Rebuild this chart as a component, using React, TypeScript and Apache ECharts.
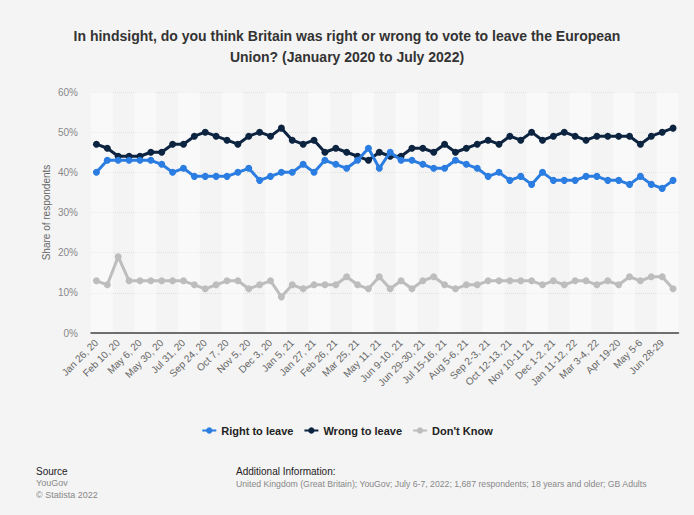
import React, { useEffect, useRef } from "react";
import * as echarts from "echarts";

const tickLabels = [
  "Jan 26, 20", "Feb 10, 20", "May 6, 20", "May 30, 20", "Jul 31, 20", "Sep 24, 20",
  "Oct 7, 20", "Nov 5, 20", "Dec 3, 20", "Jan 5, 21", "Jan 27, 21", "Feb 26, 21",
  "Mar 25, 21", "May 11, 21", "Jun 9-10, 21", "Jun 29-30, 21", "Jul 15-16, 21",
  "Aug 5-6, 21", "Sep 2-3, 21", "Oct 12-13, 21", "Nov 10-11 21", "Dec 1-2, 21",
  "Jan 11-12, 22", "Mar 3-4, 22", "Apr 19-20", "May 5-6", "Jun 28-29",
];
const lastSurvey = "Jul 6-7";

const rightToLeave = [
  40, 43, 43, 43, 43, 43, 42, 40, 41, 39, 39, 39, 39, 40, 41, 38, 39, 40, 40, 42,
  40, 43, 42, 41, 43, 46, 41, 45, 43, 43, 42, 41, 41, 43, 42, 41, 39, 40, 38, 39,
  37, 40, 38, 38, 38, 39, 39, 38, 38, 37, 39, 37, 36, 38,
];
const wrongToLeave = [
  47, 46, 44, 44, 44, 45, 45, 47, 47, 49, 50, 49, 48, 47, 49, 50, 49, 51, 48, 47,
  48, 45, 46, 45, 44, 43, 45, 44, 44, 46, 46, 45, 47, 45, 46, 47, 48, 47, 49, 48,
  50, 48, 49, 50, 49, 48, 49, 49, 49, 49, 47, 49, 50, 51,
];
const dontKnow = [
  13, 12, 19, 13, 13, 13, 13, 13, 13, 12, 11, 12, 13, 13, 11, 12, 13, 9, 12, 11,
  12, 12, 12, 14, 12, 11, 14, 11, 13, 11, 13, 14, 12, 11, 12, 12, 13, 13, 13, 13,
  13, 12, 13, 12, 13, 13, 12, 13, 12, 14, 13, 14, 14, 11,
];
const yTicks = [0, 10, 20, 30, 40, 50, 60];

const seriesNames = ["Right to leave", "Wrong to leave", "Don't Know"];
const seriesColors = ["#2b7de1", "#0d2440", "#bdbdbd"];

// categories: labelled survey dates at every other point, last point is the latest survey
const categories: string[] = [];
for (let i = 0; i < rightToLeave.length; i++) {
  if (i % 2 === 0) categories.push(tickLabels[i / 2]);
  else if (i === rightToLeave.length - 1) categories.push(lastSurvey);
  else categories.push("");
}

export default function App() {
  const ref = useRef<HTMLDivElement>(null);
  useEffect(() => {
    document.body.style.margin = "0";
    document.body.style.background = "#f4f4f4";
    const chart = echarts.init(ref.current!, null, { renderer: "svg" });
    const font = "'Liberation Sans', Arial, sans-serif";
    const mk = (idx: number, data: number[]) => ({
      name: seriesNames[idx],
      type: "line",
      data,
      symbol: "circle",
      symbolSize: 7,
      lineStyle: { width: 3, color: seriesColors[idx] },
      itemStyle: { color: seriesColors[idx] },
      z: 10 - idx,
    });
    chart.setOption({
      animation: false,
      backgroundColor: "#f4f4f4",
      textStyle: { fontFamily: font },
      title: {
        text:
          "In hindsight, do you think Britain was right or wrong to vote to leave the European\nUnion? (January 2020 to July 2022)",
        left: "center",
        top: 20,
        textStyle: { fontSize: 14, fontWeight: "bold", color: "#333", lineHeight: 21, fontFamily: font },
      },
      legend: {
        data: seriesNames,
        bottom: 74,
        left: "center",
        itemWidth: 14,
        itemHeight: 8,
        itemGap: 10,
        textStyle: { fontSize: 11, fontWeight: "bold", color: "#222", fontFamily: font },
      },
      grid: { left: 91, right: 15.5, top: 92, height: 241 },
      xAxis: {
        type: "category",
        data: categories,
        boundaryGap: true,
        axisLine: { show: true, lineStyle: { color: "#444", width: 1.5 } },
        axisTick: { show: false },
        splitArea: { show: true, interval: 1, areaStyle: { color: ["rgba(255,255,255,0.45)", "rgba(255,255,255,0)"] } },
        axisLabel: {
          interval: 1,
          rotate: 45,
          fontSize: 10,
          color: "#666",
          margin: 8,
          fontFamily: font,
        },
      },
      yAxis: {
        type: "value",
        min: yTicks[0],
        max: yTicks[yTicks.length - 1],
        interval: 10,
        name: "Share of respondents",
        nameLocation: "middle",
        nameRotate: 90,
        nameGap: 40,
        nameMoveOverlap: false,
        nameTextStyle: { fontSize: 10, color: "#666", fontFamily: font },
        axisLine: { show: false },
        axisTick: { show: false },
        axisLabel: { formatter: "{value}%", fontSize: 10, color: "#888", margin: 13, fontFamily: font },
        splitLine: { lineStyle: { color: "#dedede", type: "dotted", width: 1 } },
      },
      graphic: [
        { type: "text", left: 36, top: 466, style: { text: "Source", fontSize: 10, fill: "#222", fontFamily: font } },
        { type: "text", left: 36, top: 478, style: { text: "YouGov", fontSize: 9, fill: "#888", fontFamily: font } },
        { type: "text", left: 36, top: 490, style: { text: "© Statista 2022", fontSize: 9, fill: "#888", fontFamily: font } },
        { type: "text", left: 236, top: 466, style: { text: "Additional Information:", fontSize: 10, fill: "#222", fontFamily: font } },
        {
          type: "text",
          left: 236,
          top: 479,
          style: {
            text: "United Kingdom (Great Britain); YouGov; July 6-7, 2022; 1,687 respondents; 18 years and older; GB Adults",
            fontSize: 8.7,
            fill: "#888",
            fontFamily: font,
          },
        },
      ],
      series: [mk(0, rightToLeave), mk(1, wrongToLeave), mk(2, dontKnow)],
    });
    return () => chart.dispose();
  }, []);
  return <div ref={ref} style={{ width: 694, height: 515 }} />;
}
